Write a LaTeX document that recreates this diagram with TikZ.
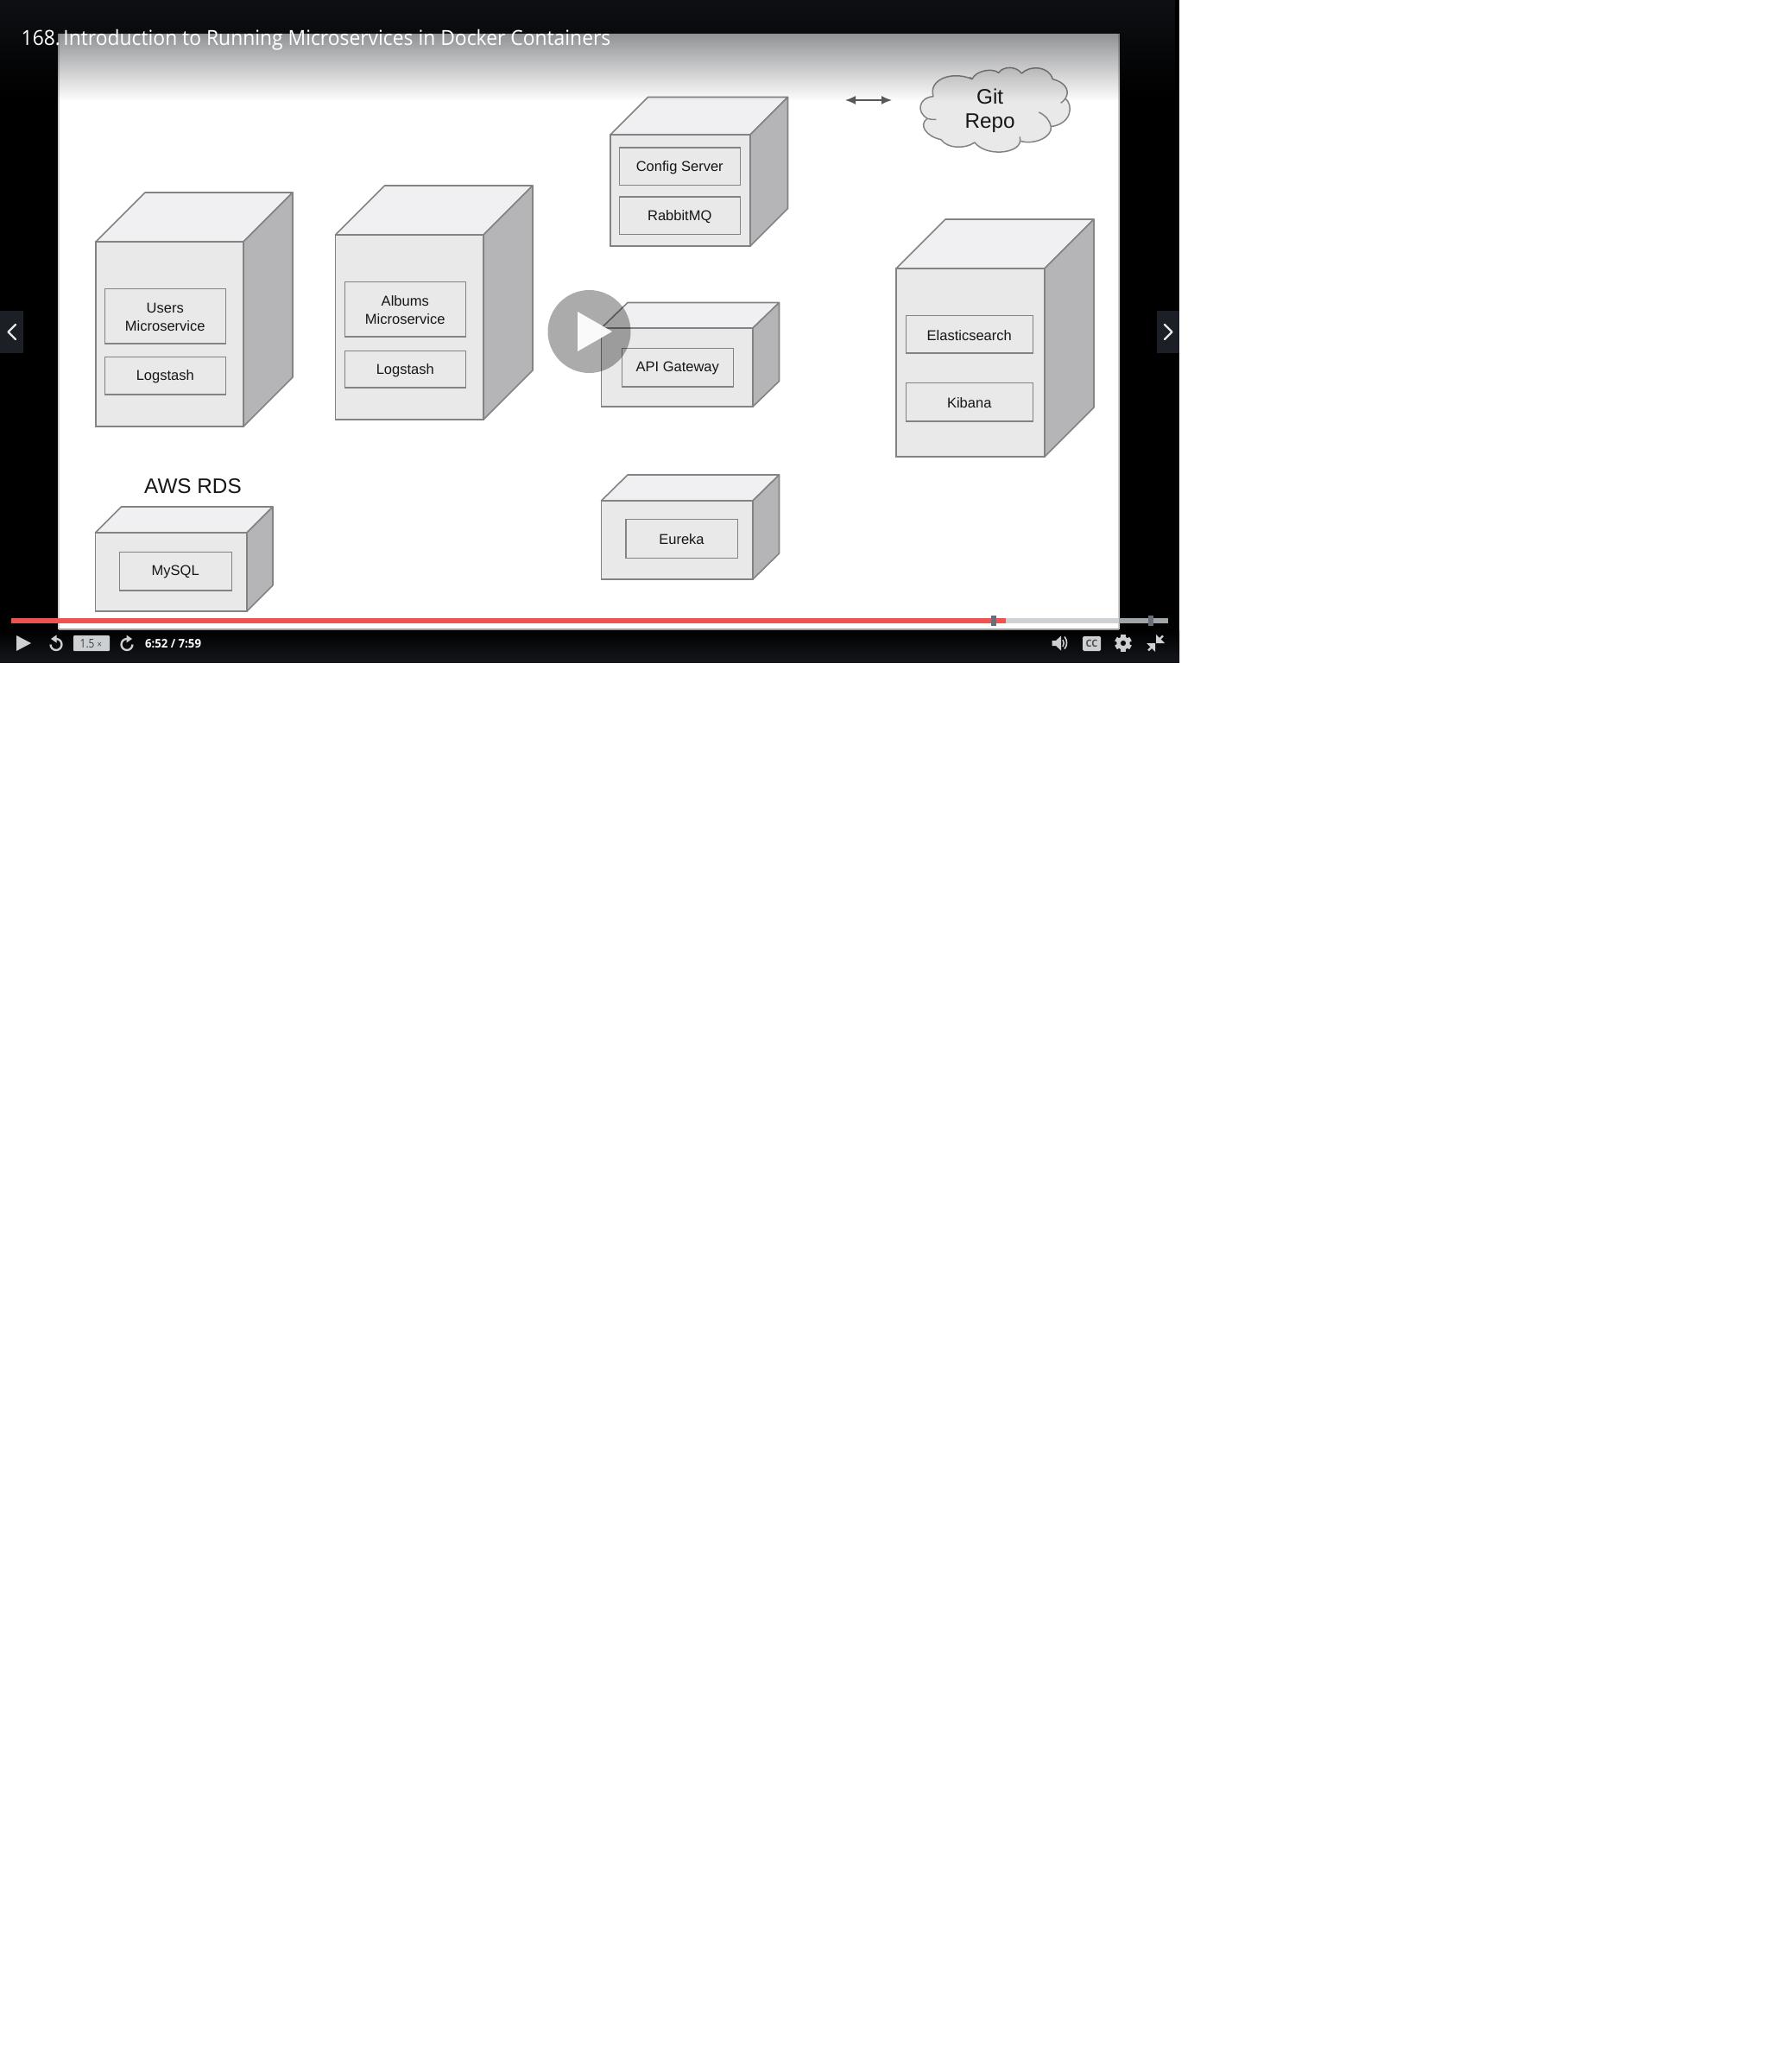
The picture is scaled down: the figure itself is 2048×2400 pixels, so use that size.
\documentclass[tikz,border=0pt]{standalone}
\usepackage{fontspec}
\setmainfont{Liberation Sans}
\newfontfamily\uifont[FakeStretch=0.953]{Open Sans}
\newfontfamily\smallui[FakeStretch=0.85]{Open Sans}
\usetikzlibrary{fadings,arrows.meta}
\definecolor{edgec}{HTML}{838383}
\definecolor{frontc}{HTML}{E9E9E9}
\definecolor{topc}{HTML}{F0EFF1}
\definecolor{sidec}{HTML}{B5B4B7}
\definecolor{inkc}{HTML}{161616}
\definecolor{barc}{HTML}{15171C}
\definecolor{redc}{HTML}{EF5350}
\definecolor{trackc}{HTML}{CED2D5}
\definecolor{trackd}{HTML}{A0A5A9}
\definecolor{handlec}{HTML}{686F7A}
\definecolor{iconc}{HTML}{CDD0D3}
\definecolor{navc}{HTML}{1C2026}
\tikzfading[name=headerfade, top color=transparent!30, bottom color=transparent!100]
\tikzset{
  boxface/.style={draw=edgec,line width=1.6pt,line join=round},
  inner box/.style={draw=edgec,line width=1.5pt,fill=frontc,inner sep=0pt},
  inner text/.style={text=inkc,inner sep=0pt,font=\fontsize{16.5}{20.5}\selectfont,align=center},
  big label/.style={text=inkc,inner sep=0pt,font=\fontsize{24.3}{28.5}\selectfont,align=center},
  icon/.style={fill=iconc,draw=none},
  iconline/.style={draw=iconc,line width=2.3pt},
  chevron/.style={draw=frontc,line width=2.4pt,line cap=round,line join=round},
}
% cube: name, x1, y1 (front top-left), x2, y2 (front bottom-right), offset x, offset y
\newcommand{\cubebox}[7]{%
  \fill[topc,boxface] (#2,#3) -- ({#2+#6},{#3-#7}) -- ({#4+#6},{#3-#7}) -- (#4,#3) -- cycle;
  \fill[sidec,boxface] (#4,#3) -- ({#4+#6},{#3-#7}) -- ({#4+#6},{#5-#7}) -- (#4,#5) -- cycle;
  \node[draw=edgec,line width=1.6pt,fill=frontc,inner sep=0pt,minimum width={(#4-#2)*1pt},minimum height={(#5-#3)*1pt}] (#1) at ({(#2+#4)/2},{(#3+#5)/2}) {};
}
\newcommand{\innerbox}[6]{%
  \node[inner box,minimum width={(#4-#2-1)*1pt},minimum height={(#5-#3-0.5)*1pt}] (#1) at ({(#2+#4-0.5)/2},{(#3+#5)/2}) {};
  \node[inner text] (#1text) at ([yshift=-1.3pt]#1.center) {#6};
}
\begin{document}
\begin{tikzpicture}[x=1pt,y=-1pt]
\useasboundingbox (0,0) rectangle (2048,2400);
\fill[white] (0,0) rectangle (2048,2400);
% player frame
\fill[black] (0,0) rectangle (1366,767.5);
\fill[white] (68,39) rectangle (1296,729);
\draw[black!18,line width=1.5pt] (68,39) -- (68,729) (1296,39) -- (1296,729);
\draw[black!40,line width=1.5pt] (68,729) -- (1296,729);
% cubes
\cubebox{users}{111}{280}{282}{494}{57}{57}
\innerbox{usersms}{121}{334}{262}{398}{Users\\Microservice}
\innerbox{userslog}{121}{413}{262}{457}{Logstash}
\cubebox{albums}{388.5}{272}{560}{486}{57}{57}
\innerbox{albumsms}{399}{326}{540}{390}{Albums\\Microservice}
\innerbox{albumslog}{399}{406}{540}{449}{Logstash}
\cubebox{rds}{110.5}{617}{286}{708}{30}{30}
\innerbox{mysql}{138}{639}{269}{684}{MySQL}
\node[big label] (rdslabel) at (223.5,563) {AWS RDS};
\cubebox{config}{707}{156}{869}{285}{43.5}{43.5}
\innerbox{configsrv}{717}{171}{858}{215}{Config Server}
\innerbox{rabbit}{717}{228}{858}{272}{RabbitMQ}
\cubebox{gateway}{696.5}{380}{872}{471}{30.5}{29.5}
\innerbox{apigw}{720}{403}{850}{448}{API Gateway}
\cubebox{eurekab}{696.5}{580}{872}{671}{30.5}{30}
\innerbox{eureka}{724.5}{601}{855}{646.5}{Eureka}
\cubebox{elastic}{1038}{311}{1210}{529}{57}{57}
\innerbox{es}{1049}{365}{1197}{409}{Elasticsearch}
\innerbox{kibana}{1049}{443}{1197}{488}{Kibana}
% double arrow
\coordinate (arrowl) at (979,116);
\coordinate (arrowr) at (1033,116);
\draw[draw=black!65,line width=1.4pt,{Latex[length=12pt,width=10pt]}-{Latex[length=12pt,width=10pt]}] (arrowl) -- (arrowr);
% cloud
\begin{scope}[shift={(950,50)},x=0.33333pt,y=-0.33333pt]
\filldraw[fill=frontc,draw=edgec,line width=1.5pt,line join=round]
  (393,185) .. controls (375,125) and (460,95) .. (528,125)
  .. controls (540,95) and (600,85) .. (620,103)
  .. controls (635,80) and (680,78) .. (700,105)
  .. controls (730,75) and (795,80) .. (808,125)
  .. controls (850,135) and (870,165) .. (852,192)
  .. controls (880,215) and (875,280) .. (802,290)
  .. controls (808,325) and (745,355) .. (695,340)
  .. controls (690,385) and (575,395) .. (537,345)
  .. controls (500,370) and (440,365) .. (420,335)
  .. controls (370,325) and (340,285) .. (372,262)
  .. controls (335,240) and (340,190) .. (393,185) -- cycle;
\draw[edgec,line width=1.5pt] (372,262) .. controls (382,265) and (392,266) .. (403,265);
\draw[edgec,line width=1.5pt] (760,240) .. controls (785,252) and (798,270) .. (802,290);
\draw[edgec,line width=1.5pt] (852,192) .. controls (848,198) and (843,204) .. (836,208);
\draw[edgec,line width=1.5pt] (528,125) -- (520,118);
\draw[edgec,line width=1.5pt] (695,340) -- (694,325);
\node[big label] (gitrepo) at (590,235) {Git\\Repo};
\end{scope}
% header overlay
\fill[barc,path fading=headerfade] (0,0) rectangle (1366,117);
\node[anchor=base west,inner sep=0pt,text=white,font=\uifont\fontsize{24}{28}\selectfont] (title) at (24.5,53) {168.\hspace{-4.5pt} Introduction to Running Microservices in Docker Containers};
% footer
\shade[top color=black,bottom color=barc] (0,730) rectangle (1366,767.5);
% big play button
\node[circle,fill=black,fill opacity=.33,minimum size=96pt,inner sep=0pt] (playbig) at (682.5,384) {};
\fill[white,fill opacity=.95] (669,361) -- (709,384) -- (669,407) -- cycle;
% nav buttons
\fill[navc] (0,360) rectangle (27,409);
\draw[chevron] (18,376) -- (9.5,384.5) -- (18,393);
\fill[navc] (1340,360) rectangle (1366,409);
\draw[chevron] (1349,376) -- (1357.5,384.5) -- (1349,393);
% progress track
\fill[trackd] (13,716) rectangle (68,722);
\fill[trackc] (68,716) rectangle (1296,722);
\fill[trackd] (1296,716) rectangle (1353,722);
\fill[redc] (13,716) rectangle (1165,722);
\fill[handlec] (1148,713) rectangle (1154,725);
\fill[handlec] (1330,713) rectangle (1336,725);
% control bar icons
\fill[icon] (19,736) -- (36,745) -- (19,754) -- cycle;
% replay
\draw[iconline] (65,740) arc[start angle=270,delta angle=270,radius=6.5];
\fill[icon] (59,740) -- (65.5,735.5) -- (65.5,744.5) -- cycle;
\node[fill=iconc,inner sep=0pt,minimum width=42pt,minimum height=18pt,rounded corners=1pt] (speed) at (106,745) {};
\node[anchor=base west,inner sep=0pt,text=black!75,font=\smallui\fontsize{14}{14}\selectfont] (speedv) at (92.5,750) {1.5};
\node[anchor=base west,inner sep=0pt,text=black!75,font=\smallui\fontsize{11}{11}\selectfont] (speedx) at (112.5,750) {×};
% forward
\draw[iconline] (147,740) arc[start angle=270,delta angle=-270,radius=6.5];
\fill[icon] (153,740) -- (146.5,735.5) -- (146.5,744.5) -- cycle;
\node[anchor=base west,inner sep=0pt,text=white,font=\uifont\bfseries\fontsize{13.8}{14}\selectfont] (time) at (168,750) {6:52 / 7:59};
% volume
\fill[icon] (1218.5,742) -- (1223,742) -- (1229,736.5) -- (1229,753.5) -- (1223,748) -- (1218.5,748) -- cycle;
\draw[draw=iconc,line width=1.6pt] (1231,741) arc[start angle=-35,end angle=35,radius=7];
\draw[draw=iconc,line width=1.6pt] (1233,737.5) arc[start angle=-40,end angle=40,radius=11];
% cc
\node[fill=iconc,inner sep=0pt,minimum width=21pt,minimum height=17pt,rounded corners=1.5pt,text=black!70,font=\uifont\bfseries\fontsize{11.5}{12}\selectfont] (ccbox) at (1264.5,745.5) {CC};
% gear
\begin{scope}[shift={(1301,745)}]
\foreach \a in {0,60,120,180,240,300}{
  \fill[icon,rotate=\a] (-2.6,-9.8) rectangle (2.6,-5);
}
\fill[icon,even odd rule] (0,0) circle (7.6) (0,0) circle (3.2);
\end{scope}
% compress
\draw[iconline] (1330,753.5) -- (1336,747.5);
\fill[icon] (1328,745) -- (1338,745) -- (1338,755) -- cycle;
\draw[iconline] (1347,736.5) -- (1341,742.5);
\fill[icon] (1349,745) -- (1339,745) -- (1339,735) -- cycle;
\end{tikzpicture}
\end{document}
